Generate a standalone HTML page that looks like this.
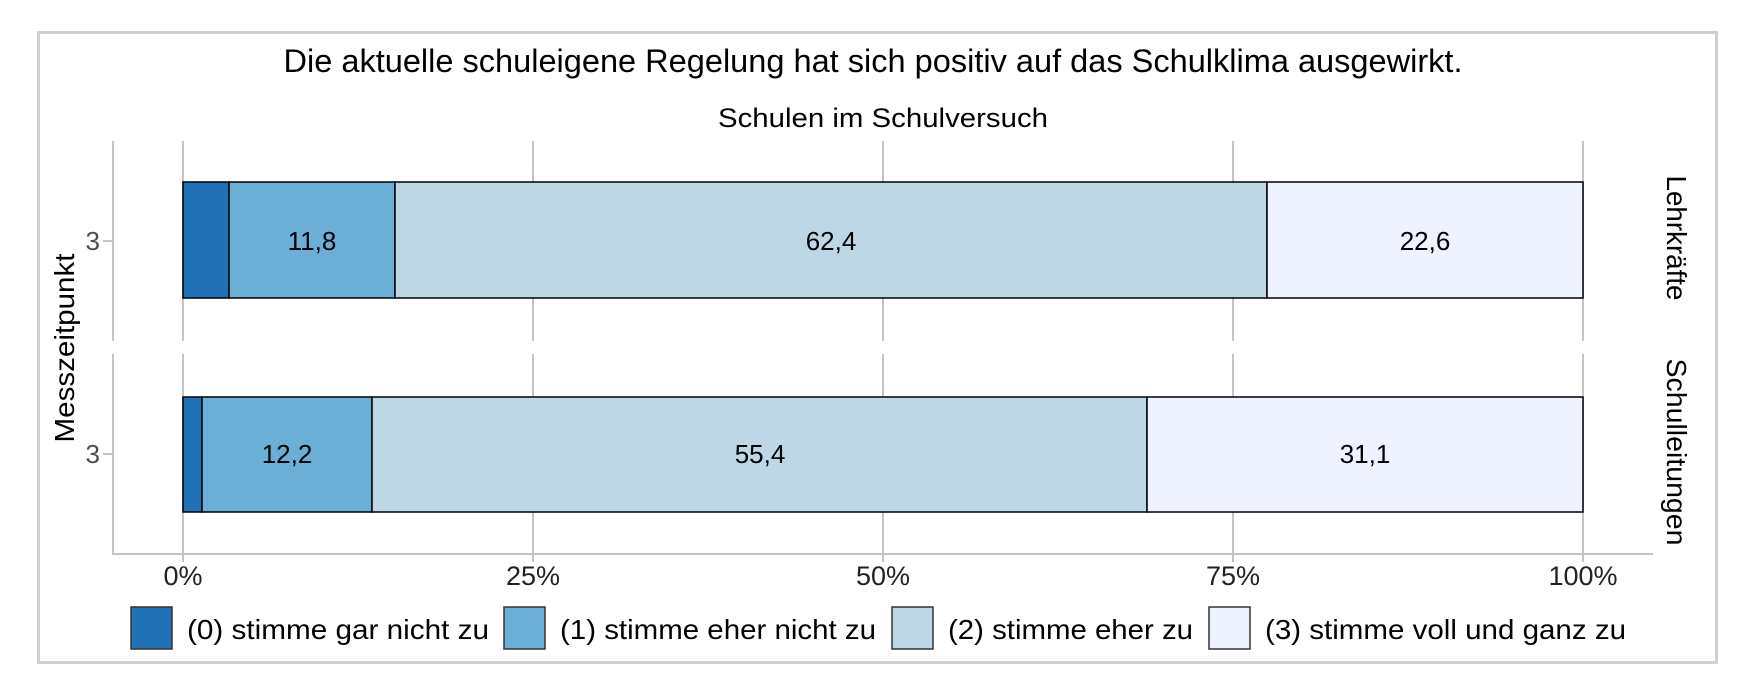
<!DOCTYPE html>
<html><head><meta charset="utf-8"><style>html,body{margin:0;padding:0;background:#fff}svg{display:block}text{font-family:"Liberation Sans",Arial,sans-serif}</style></head>
<body>
<svg width="1746" height="689" viewBox="0 0 1746 689" xmlns="http://www.w3.org/2000/svg">
<rect x="38.5" y="32.5" width="1678" height="630" fill="#fff" stroke="#d0d0d0" stroke-width="3"/>
<text x="873" y="72" font-size="32" text-anchor="middle" textLength="1179" lengthAdjust="spacingAndGlyphs">Die aktuelle schuleigene Regelung hat sich positiv auf das Schulklima ausgewirkt.</text>
<text x="883" y="127" font-size="27" text-anchor="middle" textLength="330" lengthAdjust="spacingAndGlyphs">Schulen im Schulversuch</text>
<g stroke="#c4c4c4" stroke-width="2">
<line x1="183" y1="141" x2="183" y2="341"/><line x1="533" y1="141" x2="533" y2="341"/><line x1="883" y1="141" x2="883" y2="341"/><line x1="1233" y1="141" x2="1233" y2="341"/><line x1="1583" y1="141" x2="1583" y2="341"/>
<line x1="183" y1="354" x2="183" y2="554"/><line x1="533" y1="354" x2="533" y2="554"/><line x1="883" y1="354" x2="883" y2="554"/><line x1="1233" y1="354" x2="1233" y2="554"/><line x1="1583" y1="354" x2="1583" y2="554"/>
<line x1="113" y1="141" x2="113" y2="341"/><line x1="113" y1="354" x2="113" y2="555"/>
<line x1="112" y1="554" x2="1653" y2="554"/>
<line x1="103" y1="241" x2="113" y2="241"/><line x1="103" y1="454" x2="113" y2="454"/>
<line x1="183" y1="554" x2="183" y2="562"/><line x1="533" y1="554" x2="533" y2="562"/><line x1="883" y1="554" x2="883" y2="562"/><line x1="1233" y1="554" x2="1233" y2="562"/><line x1="1583" y1="554" x2="1583" y2="562"/>
</g>
<g stroke="#000" stroke-width="1.5">
<rect x="183" y="182" width="46" height="116" fill="#2171b5"/>
<rect x="229" y="182" width="166" height="116" fill="#6baed6"/>
<rect x="395" y="182" width="872" height="116" fill="#bdd7e7"/>
<rect x="1267" y="182" width="316" height="116" fill="#eff3ff"/>
<rect x="183" y="397" width="19" height="115" fill="#2171b5"/>
<rect x="202" y="397" width="170" height="115" fill="#6baed6"/>
<rect x="372" y="397" width="775" height="115" fill="#bdd7e7"/>
<rect x="1147" y="397" width="436" height="115" fill="#eff3ff"/>
</g>
<g font-size="26" text-anchor="middle">
<text x="312" y="250">11,8</text><text x="831" y="250">62,4</text><text x="1425" y="250">22,6</text>
<text x="287" y="463">12,2</text><text x="760" y="463">55,4</text><text x="1365" y="463">31,1</text>
</g>
<g font-size="26" fill="#4d4d4d" text-anchor="end"><text x="100" y="250">3</text><text x="100" y="463">3</text></g>
<g font-size="27" fill="#222" text-anchor="middle">
<text x="183" y="585">0%</text><text x="533" y="585">25%</text><text x="883" y="585">50%</text><text x="1233" y="585">75%</text><text x="1583" y="585">100%</text>
</g>
<text transform="translate(74,348) rotate(-90)" font-size="28" text-anchor="middle" textLength="189" lengthAdjust="spacingAndGlyphs">Messzeitpunkt</text>
<text transform="translate(1667,238) rotate(90)" font-size="28" text-anchor="middle" textLength="125" lengthAdjust="spacingAndGlyphs">Lehrkräfte</text>
<text transform="translate(1667,452) rotate(90)" font-size="28" text-anchor="middle" textLength="187" lengthAdjust="spacingAndGlyphs">Schulleitungen</text>
<g stroke="#333" stroke-width="1.5">
<rect x="131" y="607" width="41" height="42" fill="#2171b5"/>
<rect x="504" y="607" width="41" height="42" fill="#6baed6"/>
<rect x="892" y="607" width="41" height="42" fill="#bdd7e7"/>
<rect x="1209" y="607" width="41" height="42" fill="#eff3ff"/>
</g>
<g font-size="28">
<text x="187" y="639" textLength="302" lengthAdjust="spacingAndGlyphs">(0) stimme gar nicht zu</text>
<text x="560" y="639" textLength="316" lengthAdjust="spacingAndGlyphs">(1) stimme eher nicht zu</text>
<text x="948" y="639" textLength="245" lengthAdjust="spacingAndGlyphs">(2) stimme eher zu</text>
<text x="1265" y="639" textLength="361" lengthAdjust="spacingAndGlyphs">(3) stimme voll und ganz zu</text>
</g>
</svg>
</body></html>
